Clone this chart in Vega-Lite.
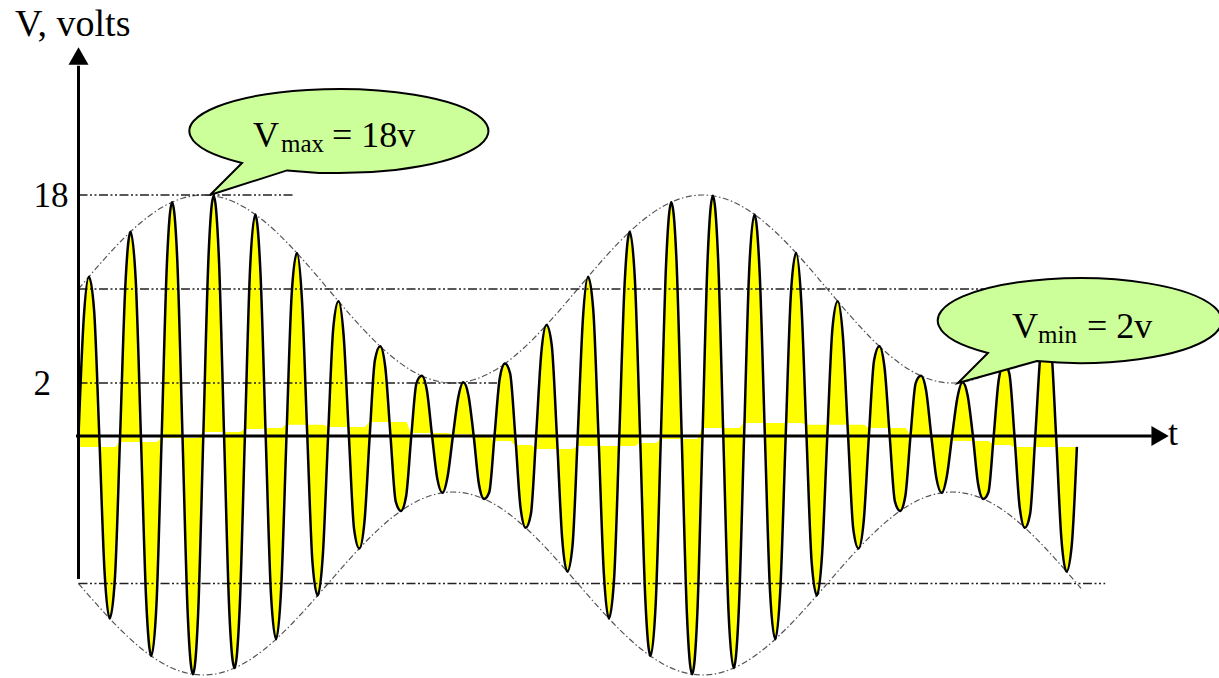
{
  "$schema": "https://vega.github.io/schema/vega-lite/v6.json",
  "width": 1219,
  "height": 678,
  "padding": 0,
  "autosize": {"type": "none"},
  "background": "white",
  "config": {"view": {"stroke": null}},
  "datasets": {
    "wave": [
      {"t":0,"v":0,"b":-0.39},{"t":0.125,"v":7.441,"b":-0.39},{"t":0.25,"v":11.044,"b":-0.39},{"t":0.375,"v":8.175,"b":-0.39},
      {"t":0.5,"v":0,"b":-0.39},{"t":0.625,"v":-8.89,"b":-0.39},{"t":0.75,"v":-13.061,"b":-0.39},{"t":0.875,"v":-9.573,"b":-0.39},
      {"t":1,"v":0,"b":-0.21},{"t":1.125,"v":10.214,"b":-0.21},{"t":1.25,"v":14.87,"b":-0.21},{"t":1.375,"v":10.801,"b":-0.21},
      {"t":1.5,"v":0,"b":-0.21},{"t":1.625,"v":-11.324,"b":-0.21},{"t":1.75,"v":-16.347,"b":-0.21},{"t":1.875,"v":-11.775,"b":-0.21},
      {"t":2,"v":0,"b":-0.07},{"t":2.125,"v":12.145,"b":-0.07},{"t":2.25,"v":17.391,"b":-0.07},{"t":2.375,"v":12.427,"b":-0.07},
      {"t":2.5,"v":0,"b":-0.07},{"t":2.625,"v":-12.619,"b":-0.07},{"t":2.75,"v":-17.932,"b":-0.07},{"t":2.875,"v":-12.716,"b":-0.07},
      {"t":3,"v":0,"b":0.15},{"t":3.125,"v":12.716,"b":0.15},{"t":3.25,"v":17.932,"b":0.15},{"t":3.375,"v":12.619,"b":0.15},
      {"t":3.5,"v":0,"b":0.15},{"t":3.625,"v":-12.427,"b":0.15},{"t":3.75,"v":-17.391,"b":0.15},{"t":3.875,"v":-12.145,"b":0.15},
      {"t":4,"v":0,"b":0.26},{"t":4.125,"v":11.775,"b":0.26},{"t":4.25,"v":16.347,"b":0.26},{"t":4.375,"v":11.324,"b":0.26},
      {"t":4.5,"v":0,"b":0.3},{"t":4.625,"v":-10.801,"b":0.3},{"t":4.75,"v":-14.87,"b":0.3},{"t":4.875,"v":-10.214,"b":0.3},
      {"t":5,"v":0,"b":0.42},{"t":5.125,"v":9.573,"b":0.42},{"t":5.25,"v":13.061,"b":0.42},{"t":5.375,"v":8.89,"b":0.42},
      {"t":5.5,"v":0,"b":0.42},{"t":5.625,"v":-8.175,"b":0.42},{"t":5.75,"v":-11.044,"b":0.42},{"t":5.875,"v":-7.441,"b":0.42},
      {"t":6,"v":0,"b":0.34},{"t":6.125,"v":6.701,"b":0.34},{"t":6.25,"v":8.956,"b":0.34},{"t":6.375,"v":5.967,"b":0.34},
      {"t":6.5,"v":0,"b":0.34},{"t":6.625,"v":-5.252,"b":0.34},{"t":6.75,"v":-6.939,"b":0.34},{"t":6.875,"v":-4.569,"b":0.34},
      {"t":7,"v":0,"b":0.53},{"t":7.125,"v":3.928,"b":0.53},{"t":7.25,"v":5.13,"b":0.53},{"t":7.375,"v":3.341,"b":0.53},
      {"t":7.5,"v":0,"b":0.53},{"t":7.625,"v":-2.818,"b":0.53},{"t":7.75,"v":-3.653,"b":0.53},{"t":7.875,"v":-2.367,"b":0.53},
      {"t":8,"v":0,"b":0.11},{"t":8.125,"v":1.998,"b":0.11},{"t":8.25,"v":2.609,"b":0.11},{"t":8.375,"v":1.715,"b":0.11},
      {"t":8.5,"v":0,"b":0.11},{"t":8.625,"v":-1.523,"b":0.11},{"t":8.75,"v":-2.068,"b":0.11},{"t":8.875,"v":-1.426,"b":0.11},
      {"t":9,"v":0,"b":0.07},{"t":9.125,"v":1.426,"b":0.07},{"t":9.25,"v":2.068,"b":0.07},{"t":9.375,"v":1.523,"b":0.07},
      {"t":9.5,"v":0,"b":-0.04},{"t":9.625,"v":-1.715,"b":-0.04},{"t":9.75,"v":-2.609,"b":-0.04},{"t":9.875,"v":-1.998,"b":-0.04},
      {"t":10,"v":0,"b":-0.18},{"t":10.125,"v":2.367,"b":-0.18},{"t":10.25,"v":3.653,"b":-0.18},{"t":10.375,"v":2.818,"b":-0.18},
      {"t":10.5,"v":0,"b":-0.32},{"t":10.625,"v":-3.341,"b":-0.32},{"t":10.75,"v":-5.13,"b":-0.32},{"t":10.875,"v":-3.928,"b":-0.32},
      {"t":11,"v":0,"b":-0.46},{"t":11.125,"v":4.569,"b":-0.46},{"t":11.25,"v":6.939,"b":-0.46},{"t":11.375,"v":5.252,"b":-0.46},
      {"t":11.5,"v":0,"b":-0.46},{"t":11.625,"v":-5.967,"b":-0.46},{"t":11.75,"v":-8.956,"b":-0.46},{"t":11.875,"v":-6.701,"b":-0.46},
      {"t":12,"v":0,"b":-0.36},{"t":12.125,"v":7.441,"b":-0.36},{"t":12.25,"v":11.044,"b":-0.36},{"t":12.375,"v":8.175,"b":-0.36},
      {"t":12.5,"v":0,"b":-0.36},{"t":12.625,"v":-8.89,"b":-0.36},{"t":12.75,"v":-13.061,"b":-0.36},{"t":12.875,"v":-9.573,"b":-0.36},
      {"t":13,"v":0,"b":-0.36},{"t":13.125,"v":10.214,"b":-0.36},{"t":13.25,"v":14.87,"b":-0.36},{"t":13.375,"v":10.801,"b":-0.36},
      {"t":13.5,"v":0,"b":-0.25},{"t":13.625,"v":-11.324,"b":-0.25},{"t":13.75,"v":-16.347,"b":-0.25},{"t":13.875,"v":-11.775,"b":-0.25},
      {"t":14,"v":0,"b":-0.11},{"t":14.125,"v":12.145,"b":-0.11},{"t":14.25,"v":17.391,"b":-0.11},{"t":14.375,"v":12.427,"b":-0.11},
      {"t":14.5,"v":0,"b":-0.11},{"t":14.625,"v":-12.619,"b":-0.11},{"t":14.75,"v":-17.932,"b":-0.11},{"t":14.875,"v":-12.716,"b":-0.11},
      {"t":15,"v":0,"b":0.3},{"t":15.125,"v":12.716,"b":0.3},{"t":15.25,"v":17.932,"b":0.3},{"t":15.375,"v":12.619,"b":0.3},
      {"t":15.5,"v":0,"b":0.3},{"t":15.625,"v":-12.427,"b":0.3},{"t":15.75,"v":-17.391,"b":0.3},{"t":15.875,"v":-12.145,"b":0.3},
      {"t":16,"v":0,"b":0.49},{"t":16.125,"v":11.775,"b":0.49},{"t":16.25,"v":16.347,"b":0.49},{"t":16.375,"v":11.324,"b":0.49},
      {"t":16.5,"v":0,"b":0.49},{"t":16.625,"v":-10.801,"b":0.49},{"t":16.75,"v":-14.87,"b":0.49},{"t":16.875,"v":-10.214,"b":0.49},
      {"t":17,"v":0,"b":0.49},{"t":17.125,"v":9.573,"b":0.49},{"t":17.25,"v":13.061,"b":0.49},{"t":17.375,"v":8.89,"b":0.49},
      {"t":17.5,"v":0,"b":0.42},{"t":17.625,"v":-8.175,"b":0.42},{"t":17.75,"v":-11.044,"b":0.42},{"t":17.875,"v":-7.441,"b":0.42},
      {"t":18,"v":0,"b":0.42},{"t":18.125,"v":6.701,"b":0.42},{"t":18.25,"v":8.956,"b":0.42},{"t":18.375,"v":5.967,"b":0.42},
      {"t":18.5,"v":0,"b":0.42},{"t":18.625,"v":-5.252,"b":0.42},{"t":18.75,"v":-6.939,"b":0.42},{"t":18.875,"v":-4.569,"b":0.42},
      {"t":19,"v":0,"b":0.3},{"t":19.125,"v":3.928,"b":0.3},{"t":19.25,"v":5.13,"b":0.3},{"t":19.375,"v":3.341,"b":0.3},
      {"t":19.5,"v":0,"b":0.3},{"t":19.625,"v":-2.818,"b":0.3},{"t":19.75,"v":-3.653,"b":0.3},{"t":19.875,"v":-2.367,"b":0.3},
      {"t":20,"v":0,"b":0.04},{"t":20.125,"v":1.998,"b":0.04},{"t":20.25,"v":2.609,"b":0.04},{"t":20.375,"v":1.715,"b":0.04},
      {"t":20.5,"v":0,"b":0.04},{"t":20.625,"v":-1.523,"b":0.04},{"t":20.75,"v":-2.068,"b":0.04},{"t":20.875,"v":-1.426,"b":0.04},
      {"t":21,"v":0,"b":-0.18},{"t":21.125,"v":1.426,"b":-0.18},{"t":21.25,"v":2.068,"b":-0.18},{"t":21.375,"v":1.523,"b":-0.18},
      {"t":21.5,"v":0,"b":-0.18},{"t":21.625,"v":-1.715,"b":-0.18},{"t":21.75,"v":-2.609,"b":-0.18},{"t":21.875,"v":-1.998,"b":-0.18},
      {"t":22,"v":0,"b":-0.32},{"t":22.125,"v":2.367,"b":-0.32},{"t":22.25,"v":3.653,"b":-0.32},{"t":22.375,"v":2.818,"b":-0.32},
      {"t":22.5,"v":0,"b":-0.39},{"t":22.625,"v":-3.341,"b":-0.39},{"t":22.75,"v":-5.13,"b":-0.39},{"t":22.875,"v":-3.928,"b":-0.39},
      {"t":23,"v":0,"b":-0.39},{"t":23.125,"v":4.569,"b":-0.39},{"t":23.25,"v":6.939,"b":-0.39},{"t":23.375,"v":5.252,"b":-0.39},
      {"t":23.5,"v":0,"b":-0.39},{"t":23.625,"v":-5.967,"b":-0.39},{"t":23.75,"v":-8.956,"b":-0.39},{"t":23.875,"v":-6.701,"b":-0.39},
      {"t":24,"v":-0.39,"b":-0.39}
    ],
    "env": [
      {"t":0,"hi":10,"lo":-10},{"t":0.5,"hi":12.071,"lo":-12.071},{"t":1,"hi":14,"lo":-14},{"t":1.5,"hi":15.657,"lo":-15.657},
      {"t":2,"hi":16.928,"lo":-16.928},{"t":2.5,"hi":17.727,"lo":-17.727},{"t":3,"hi":18,"lo":-18},{"t":3.5,"hi":17.727,"lo":-17.727},
      {"t":4,"hi":16.928,"lo":-16.928},{"t":4.5,"hi":15.657,"lo":-15.657},{"t":5,"hi":14,"lo":-14},{"t":5.5,"hi":12.071,"lo":-12.071},
      {"t":6,"hi":10,"lo":-10},{"t":6.5,"hi":7.929,"lo":-7.929},{"t":7,"hi":6,"lo":-6},{"t":7.5,"hi":4.343,"lo":-4.343},
      {"t":8,"hi":3.072,"lo":-3.072},{"t":8.5,"hi":2.273,"lo":-2.273},{"t":9,"hi":2,"lo":-2},{"t":9.5,"hi":2.273,"lo":-2.273},
      {"t":10,"hi":3.072,"lo":-3.072},{"t":10.5,"hi":4.343,"lo":-4.343},{"t":11,"hi":6,"lo":-6},{"t":11.5,"hi":7.929,"lo":-7.929},
      {"t":12,"hi":10,"lo":-10},{"t":12.5,"hi":12.071,"lo":-12.071},{"t":13,"hi":14,"lo":-14},{"t":13.5,"hi":15.657,"lo":-15.657},
      {"t":14,"hi":16.928,"lo":-16.928},{"t":14.5,"hi":17.727,"lo":-17.727},{"t":15,"hi":18,"lo":-18},{"t":15.5,"hi":17.727,"lo":-17.727},
      {"t":16,"hi":16.928,"lo":-16.928},{"t":16.5,"hi":15.657,"lo":-15.657},{"t":17,"hi":14,"lo":-14},{"t":17.5,"hi":12.071,"lo":-12.071},
      {"t":18,"hi":10,"lo":-10},{"t":18.5,"hi":7.929,"lo":-7.929},{"t":19,"hi":6,"lo":-6},{"t":19.5,"hi":4.343,"lo":-4.343},
      {"t":20,"hi":3.072,"lo":-3.072},{"t":20.5,"hi":2.273,"lo":-2.273},{"t":21,"hi":2,"lo":-2},{"t":21.5,"hi":2.273,"lo":-2.273},
      {"t":22,"hi":3.072,"lo":-3.072},{"t":22.5,"hi":4.343,"lo":-4.343},{"t":23,"hi":6,"lo":-6},{"t":23.5,"hi":7.929,"lo":-7.929},
      {"t":24,"hi":10,"lo":-10},{"t":24.1,"hi":10.42,"lo":-10.42}
    ],
    "guides": [
      {"t":0,"t2":5.16,"v":18},
      {"t":0,"t2":24.5,"v":10},
      {"t":0,"t2":10.06,"v":2},
      {"t":0,"t2":24.68,"v":-10}
    ],
    "axes": [
      {"t":0,"t2":0,"v":-9.6,"v2":29.0},
      {"t":-0.06,"t2":25.8,"v":0,"v2":0}
    ],
    "heads": [
      {"t":0,"v":29.83,"dir":"up"},
      {"t":26.0,"v":0,"dir":"right"}
    ],
    "callouts": [
      {"label":"max","t":3.161,"v":18},
      {"label":"min","t":21.14,"v":2}
    ],
    "texts": [
      {"kind":"head","t":-1.526,"v":31.53,"text":"V, volts"},
      {"kind":"main","t":26.19,"v":-0.32,"text":"t"},
      {"kind":"main","t":4.195,"v":22.085,"text":"V"},
      {"kind":"sub","t":4.868,"v":21.66,"text":"max"},
      {"kind":"main","t":6.094,"v":22.085,"text":"= 18v"},
      {"kind":"main","t":22.44,"v":5.83,"text":"V"},
      {"kind":"sub","t":23.065,"v":5.404,"text":"min"},
      {"kind":"main","t":24.243,"v":5.83,"text":"= 2v"}
    ]
  },
  "encoding": {
    "x": {"field": "t", "type": "quantitative", "scale": {"domain": [-1.887, 27.416], "nice": false, "zero": false}, "axis": null},
    "y": {"field": "v", "type": "quantitative",
          "scale": {"domain": [-18, -2, 0, 2, 18], "range": [675, 492, 436, 383, 195], "nice": false, "zero": false},
          "axis": {"values": [2, 18], "domain": false, "ticks": false, "grid": false, "title": null,
                   "labelFont": "Liberation Serif", "labelFontSize": 35, "labelColor": "#000",
                   "labelAlign": "left", "labelBaseline": "middle", "labelPadding": 0, "offset": -33}}
  },
  "layer": [
    {
      "data": {"name": "wave"},
      "mark": {"type": "area", "interpolate": "monotone", "color": "#FFFF00", "fillOpacity": 1},
      "encoding": {"y2": {"field": "b"}}
    },
    {
      "data": {"name": "env"},
      "transform": [{"fold": ["hi", "lo"], "as": ["side", "v"]}],
      "mark": {"type": "line", "interpolate": "monotone", "color": "#555555", "strokeWidth": 1.2, "strokeDash": [6, 2.5, 1.5, 2.5]},
      "encoding": {"detail": {"field": "side", "type": "nominal"}}
    },
    {
      "data": {"name": "guides"},
      "mark": {"type": "rule", "color": "#222222", "strokeWidth": 1.3, "strokeDash": [9, 2.5, 2, 2.5, 2, 2.5]},
      "encoding": {"x2": {"field": "t2"}}
    },
    {
      "data": {"name": "wave"},
      "mark": {"type": "line", "interpolate": "monotone", "color": "#000000", "strokeWidth": 2.5, "strokeJoin": "round"},
      "encoding": {}
    },
    {
      "data": {"name": "axes"},
      "mark": {"type": "rule", "color": "#000000", "strokeWidth": 3},
      "encoding": {"x2": {"field": "t2"}, "y2": {"field": "v2"}}
    },
    {
      "data": {"name": "heads"},
      "mark": {"type": "point", "filled": true, "color": "#000000", "opacity": 1, "size": 400},
      "encoding": {
        "shape": {"field": "dir", "type": "nominal", "scale": {"domain": ["up", "right"], "range": ["triangle-up", "triangle-right"]}, "legend": null}
      }
    },
    {
      "data": {"name": "callouts"},
      "transform": [{"filter": "datum.label === 'max'"}],
      "mark": {"type": "point", "shape": "M 77 -24.6 A 149.5 42 0 1 0 32 -32 L 0 0 Z", "size": 4,
               "filled": true, "fill": "#CCFF99", "stroke": "#000000", "strokeWidth": 2, "opacity": 1}
    },
    {
      "data": {"name": "callouts"},
      "transform": [{"filter": "datum.label === 'min'"}],
      "mark": {"type": "point", "shape": "M 79 -21.9 A 142 42.5 0 1 0 30 -30 L 0 0 Z", "size": 4,
               "filled": true, "fill": "#CCFF99", "stroke": "#000000", "strokeWidth": 2, "opacity": 1}
    },
    {
      "data": {"name": "texts"},
      "transform": [{"filter": "datum.kind === 'head'"}],
      "mark": {"type": "text", "font": "Liberation Serif", "fontSize": 38, "color": "#000000", "align": "left", "baseline": "alphabetic"},
      "encoding": {"text": {"field": "text"}}
    },
    {
      "data": {"name": "texts"},
      "transform": [{"filter": "datum.kind === 'main'"}],
      "mark": {"type": "text", "font": "Liberation Serif", "fontSize": 36, "color": "#000000", "align": "left", "baseline": "alphabetic"},
      "encoding": {"text": {"field": "text"}}
    },
    {
      "data": {"name": "texts"},
      "transform": [{"filter": "datum.kind === 'sub'"}],
      "mark": {"type": "text", "font": "Liberation Serif", "fontSize": 25, "color": "#000000", "align": "left", "baseline": "alphabetic"},
      "encoding": {"text": {"field": "text"}}
    }
  ]
}
